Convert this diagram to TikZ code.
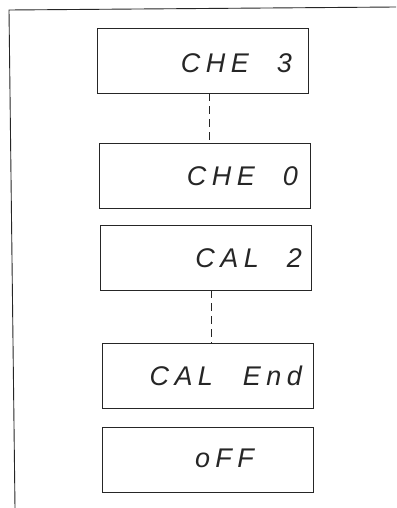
\documentclass[tikz,border=0pt]{standalone}
\usepackage{fontspec}
\setmainfont{Liberation Sans}
\newfontfamily\segfont[LetterSpace=20]{Liberation Sans}
\begin{document}
\begin{tikzpicture}[x=1pt,y=-1pt,
  disp/.style={draw=black!85,line width=0.9pt,minimum width=211pt,minimum height=65pt,inner sep=0pt},
  seg/.style={font=\segfont\itshape\fontsize{27}{27}\selectfont,inner sep=0pt,anchor=base east,text=black!85},
  link/.style={draw=black!85,line width=0.8pt,dash pattern=on 8pt off 5pt}]
\useasboundingbox (0,0) rectangle (396,508);
\fill[white] (0,0) rectangle (396,508);
% frame
\coordinate (ftl) at (9,10);
\coordinate (ftr) at (396,7);
\coordinate (fbl) at (15,508);
\draw[black!85,line width=0.9pt] (ftr) -- (ftl) -- (fbl);
% display boxes
\node[disp] (b1) at (202.5,60.5) {};
\node[disp] (b2) at (205,176) {};
\node[disp] (b3) at (205.5,257.5) {};
\node[disp] (b4) at (207.5,375.5) {};
\node[disp] (b5) at (208,459.5) {};
% texts
\node[seg] (t1) at (292,73) {CHE\hspace{28pt}3};
\node[seg] (t2) at (298,185) {CHE\hspace{28pt}0};
\node[seg] (t3) at (302,267) {CAL\hspace{28pt}2};
\node[seg] (t4) at (302,385) {CAL\hspace{30pt}End};
\node[seg] (t5) at (254,467) {oFF};
% connectors
\draw[link] ([xshift=6.5pt]b1.south) -- ([xshift=4pt]b2.north);
\draw[link] ([xshift=5.5pt]b3.south) -- ([xshift=3.5pt]b4.north);
\end{tikzpicture}
\end{document}
